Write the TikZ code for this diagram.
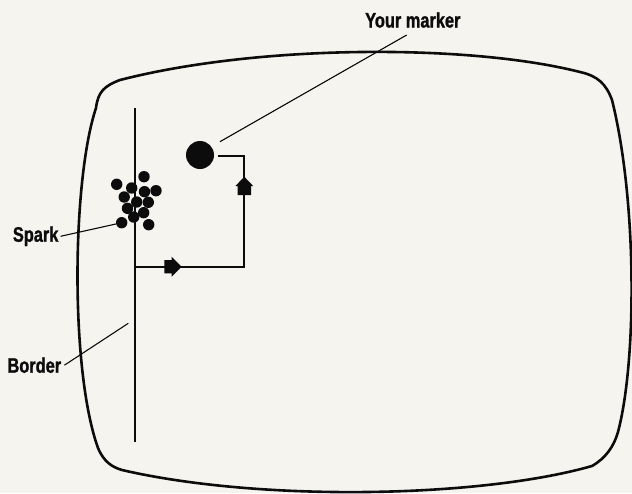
\documentclass[tikz,border=0pt]{standalone}
\usepackage{fontspec}
\newfontfamily\labfont[FakeStretch=0.78, FakeBold=1.2]{Liberation Sans}
\definecolor{paper}{RGB}{246,244,239}
\definecolor{ink}{RGB}{12,12,12}
\begin{document}
\begin{tikzpicture}[x=1pt,y=-1pt,
  screen/.style={draw=ink, line width=2.6pt, line join=round},
  track/.style={draw=ink, line width=2pt},
  leader/.style={draw=ink, line width=1.1pt},
  lbl/.style={font=\labfont\bfseries\fontsize{21}{25}\selectfont, text=ink, inner sep=0pt, anchor=base west},
  blob/.style={circle, fill=ink, inner sep=0pt, minimum size=11.4pt},
  headfill/.style={fill=ink}
]
\fill[paper] (0,0) rectangle (632,493);
\useasboundingbox (0,0) rectangle (632,493);

% screen outline
\draw[screen] (96,108) .. controls (98,92) and (104,86) .. (120,80)
  .. controls (260,44) and (470,44) .. (580,72)
  .. controls (598,76) and (606,84) .. (612,100)
  .. controls (637,200) and (637,360) .. (618,432)
  .. controls (614,446) and (606,458) .. (592,466)
  .. controls (480,498) and (260,502) .. (122,470)
  .. controls (112,467) and (104,462) .. (98,448)
  .. controls (70,370) and (72,180) .. (96,108) -- cycle;

% border line
\coordinate (btop) at (135,108);
\coordinate (bbot) at (135,442);
\draw[track] (btop) -- (bbot);

% spark cluster
\node[blob] (s1) at (116.7,184.3) {};
\node[blob] (s2) at (144,176.7) {};
\node[blob] (s3) at (131.7,188) {};
\node[blob] (s4) at (144.5,191.7) {};
\node[blob] (s5) at (156,190.7) {};
\node[blob] (s6) at (124.2,197) {};
\node[blob] (s7) at (136.7,202) {};
\node[blob] (s8) at (148.3,202.3) {};
\node[blob] (s9) at (127.5,208.3) {};
\node[blob] (s10) at (143.7,212.7) {};
\node[blob] (s11) at (133.7,217) {};
\node[blob] (s12) at (121.7,222.7) {};
\node[blob] (s13) at (148.7,224.7) {};

% marker and its track
\node[circle, fill=ink, inner sep=0pt, minimum size=28pt] (marker) at (200,155) {};
\coordinate (t0) at (218,156);
\coordinate (t1) at (244.3,156);
\coordinate (t2) at (244.3,266.7);
\coordinate (t3) at (135,266.7);
\draw[track] (t0) -- (t1) -- (t2) -- (t3);

% arrow heads on the track
\fill[headfill] (244.3,176.7) -- (253.2,186) -- (251,186) -- (251,195) -- (237.6,195) -- (237.6,186) -- (235.4,186) -- cycle;
\fill[headfill] (181.7,266.7) -- (171.7,276.7) -- (171.7,273.4) -- (164.3,273.4) -- (164.3,260) -- (171.7,260) -- (171.7,256.7) -- cycle;

% labels
\node[lbl] (marklbl) at (365,27.5) {Your marker};
\node[lbl] (sparklbl) at (12.7,241.7) {Spark};
\node[lbl] (borderlbl) at (7.3,372.7) {Border};

% leaders
\coordinate (mk1) at (406.7,35);
\coordinate (mk2) at (220,141.7);
\draw[leader] (mk1) -- (mk2);
\draw[leader] ([xshift=2pt]sparklbl.east) -- (s12);
\coordinate (bpt) at (128.3,323.3);
\draw[leader] ([xshift=3pt]borderlbl.east) -- (bpt);
\end{tikzpicture}
\end{document}
